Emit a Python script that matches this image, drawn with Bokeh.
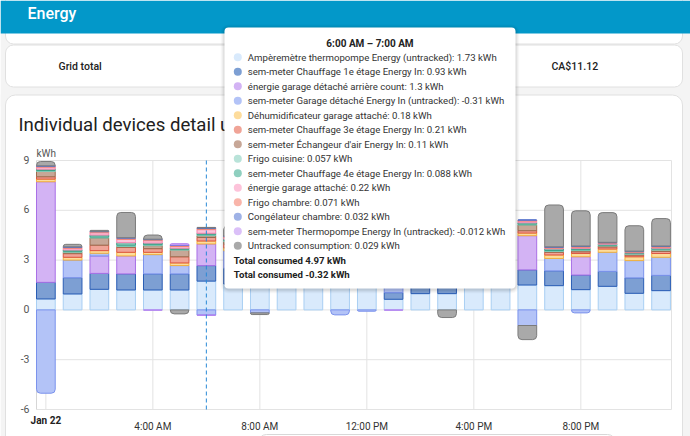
import numpy as np
from bokeh.plotting import figure
from bokeh.models import ColumnDataSource, FixedTicker, Range1d, Label, BoxAnnotation
from bokeh.core.properties import value
from bokeh.embed import file_html
from bokeh.resources import INLINE

# ---------------------------------------------------------------- data
hours = list(range(24))
x_tick_hours = [4, 8, 12, 16, 20]
x_tick_labels = ["4:00 AM", "8:00 AM", "12:00 PM", "4:00 PM", "8:00 PM"]
day_label = "Jan 22"
y_ticks = [-6, -3, 0, 3, 6, 9]
unit = "kWh"

series_names = [
    "Ampèremètre thermopompe Energy (untracked)",
    "sem-meter Chauffage 1e étage Energy In",
    "énergie garage détaché arrière count",
    "sem-meter Garage détaché Energy In (untracked)",
    "Déhumidificateur garage attaché",
    "sem-meter Chauffage 3e étage Energy In",
    "sem-meter Échangeur d'air Energy In",
    "Frigo cuisine",
    "sem-meter Chauffage 4e étage Energy In",
    "énergie garage attaché",
    "Frigo chambre",
    "Congélateur chambre",
    "sem-meter Thermopompe Energy In (untracked)",
    "Untracked consumption",
]

# hourly energy per device (kWh), hours 0..23
amperemetre = [0.66, 0.96, 1.24, 1.2, 1.2, 1.2, 1.734, 1.56, 1.7, 1.8, 1.75, 1.68,
               1.62, 0.64, 0.98, 0.98, 1.72, 1.66, 1.5, 1.46, 1.22, 1.42, 1.0, 1.16]
chauffage_1e = [1.0, 0.98, 0.96, 0.97, 0.97, 0.97, 0.934, 0.95, 0.62, 0.42, 0.36, 0.3,
                0.28, 0.4, 0.38, 0.52, 0.58, 0.74, 0.91, 0.89, 0.88, 0.9, 0.93, 0.92]
garage_detache_arriere = [6.06, 0, 1.05, 1.08, 0, 0, 1.304, 0, 0.9, 0, 0, 0.82,
                          0, 0, 0, 1.05, 0, 1.2, 2.06, 0, 1.1, 0, 0, 0]
garage_detache = [-5.02, 1.06, 0.16, 0, 1.16, 0.5, -0.31, 1.05, -0.18, 0.6, 0.55, -0.3,
                  -0.08, 0.5, 0.45, 0, 0.7, 0, -0.94, 0.75, -0.18, 1.15, 1.04, 1.09]
deshumidificateur = [0.16, 0.17, 0.16, 0.22, 0.14, 0.16, 0.18, 0.18, 0.15, 0.12, 0.12, 0.1,
                     0.1, 0.1, 0.12, 0.12, 0.14, 0.16, 0.16, 0.21, 0.2, 0.2, 0.23, 0.23]
chauffage_3e = [0.14, 0.22, 0.33, 0.3, 0.22, 0.37, 0.21, 0.22, 0.12, 0.1, 0.08, 0.08,
                0.08, 0.08, 0.08, 0.1, 0.1, 0.12, 0.14, 0.16, 0.1, 0.12, 0.1, 0.12]
echangeur_air = [0.32, 0.08, 0.43, 0.05, 0.18, 0.4, 0.11, 0.15, 0.1, 0.1, 0.1, 0.1,
                 0.1, 0.1, 0.1, 0.1, 0.1, 0.1, 0.34, 0.05, 0.08, 0.06, 0.05, 0.08]
frigo_cuisine = [0.06, 0.06, 0.06, 0.08, 0.06, 0.05, 0.057, 0.06, 0.06, 0.05, 0.06, 0.05,
                 0.06, 0.05, 0.06, 0.05, 0.06, 0.05, 0.06, 0.06, 0.05, 0.05, 0.05, 0.06]
chauffage_4e = [0.08, 0.08, 0.12, 0.15, 0.1, 0.07, 0.088, 0.09, 0.05, 0.04, 0.04, 0.04,
                0.04, 0.04, 0.05, 0.05, 0.06, 0.07, 0.08, 0.1, 0.08, 0.06, 0.04, 0.06]
garage_attache = [0.12, 0.1, 0.14, 0.2, 0.14, 0.1, 0.22, 0.1, 0.12, 0.1, 0.1, 0.08,
                  0.1, 0.1, 0.1, 0.1, 0.12, 0.1, 0.1, 0.04, 0.06, 0.04, 0.03, 0.05]
frigo_chambre = [0.05, 0.06, 0.06, 0.07, 0.06, 0.06, 0.071, 0.06, 0.07, 0.06, 0.06, 0.06,
                 0.06, 0.07, 0.06, 0.06, 0.06, 0.06, 0.05, 0.05, 0.05, 0.04, 0.04, 0.05]
congelateur = [0.03, 0.03, 0.03, 0.03, 0.03, 0.03, 0.032, 0.03, 0.03, 0.03, 0.03, 0.03,
               0.03, 0.03, 0.03, 0.03, 0.03, 0.03, 0.03, 0.03, 0.03, 0.03, 0.03, 0.03]
thermopompe = [0, 0, 0, 0, -0.02, 0.08, -0.012, 0, 0, 0, 0, 0,
               0, -0.02, 0, 0, 0, 0, 0, 0, 0, 0, 0, 0]
untracked = [0.26, 0.15, 0.05, 1.52, 0.25, -0.24, 0.029, 0.62, -0.1, 0.5, 0.6, 0.4,
             0.7, 0.6, 0.55, -0.46, 0.45, 0.5, -0.85, 2.52, 2.12, 1.79, 1.53, 1.65]

series_values = [amperemetre, chauffage_1e, garage_detache_arriere, garage_detache,
                 deshumidificateur, chauffage_3e, echangeur_air, frigo_cuisine,
                 chauffage_4e, garage_attache, frigo_chambre, congelateur,
                 thermopompe, untracked]

fill_colors = ["#d9eafc", "#7d9fd3", "#d3b3f4", "#b3c3f7", "#fddc9c", "#f0a497", "#c7a797",
               "#b9e3d9", "#8fcfbf", "#fdc3da", "#f9b5aa", "#9fb2e6", "#dbc0f8", "#a9a9a9"]
line_colors = ["#a9cff3", "#2a5db5", "#a970e6", "#7c93ec", "#f2b13c", "#dd5540", "#9c6b4e",
               "#7ccab6", "#3b9f86", "#f784b0", "#ef8574", "#5273cf", "#b27ff0", "#7b7b7b"]

selected_hour = 6

# ---------------------------------------------------------------- page geometry
W, H = 690, 436
FL, FR, FT, FB = 36, 671, 160, 409          # chart area edges on the page (px)
X0, X1 = -0.35, 23.39                       # hours shown across the chart area
Y0, Y1 = -6, 9                              # kWh shown down the chart area
FONT = "Roboto"
MEDIUM = "'Roboto Medium', Roboto"
GRID = "#e3e3e3"

# the plot frame spans the whole page; ranges are widened so that the
# chart area lands on the page rectangle above
px_per_h = (FR - FL) / (X1 - X0)
px_per_kwh = (FB - FT) / (Y1 - Y0)
x_range = Range1d(X0 - FL / px_per_h, X1 + (W - FR) / px_per_h)
y_range = Range1d(Y0 - (H - FB) / px_per_kwh, Y1 + FT / px_per_kwh)


def sx(px):
    return px


def sy(py):
    return H - py


# ---------------------------------------------------------------- stacked segments
vals = np.array(series_values, dtype=float)          # (series, hour)
pos = np.where(vals > 0, vals, 0.0)
neg = np.where(vals < 0, vals, 0.0)
pos_top = np.cumsum(pos, axis=0)
neg_bot = np.cumsum(neg, axis=0)

groups = {"mid": [], "top": [], "bottom": []}
for h in hours:
    pos_idx = [k for k in range(len(series_values)) if vals[k, h] > 0]
    neg_idx = [k for k in range(len(series_values)) if vals[k, h] < 0]
    for k in pos_idx:
        kind = "top" if k == pos_idx[-1] else "mid"
        groups[kind].append((h, pos_top[k, h] - vals[k, h], pos_top[k, h], k))
    for k in neg_idx:
        kind = "bottom" if k == neg_idx[-1] else "mid"
        groups[kind].append((h, neg_bot[k, h], neg_bot[k, h] - vals[k, h], k))


def seg_source(rows):
    return ColumnDataSource(dict(
        x=[r[0] for r in rows], bottom=[r[1] for r in rows], top=[r[2] for r in rows],
        fill=[fill_colors[r[3]] for r in rows], line=[line_colors[r[3]] for r in rows]))


# ---------------------------------------------------------------- figure
p = figure(width=W, height=H, output_backend="svg", toolbar_location=None,
           x_range=x_range, y_range=y_range, min_border=0)
p.background_fill_color = "white"
p.border_fill_color = "white"
p.outline_line_color = None
p.grid.visible = False
p.yaxis.visible = False

# grid lines limited to the chart area
grid_x = [0] + x_tick_hours
p.segment(x0=grid_x, x1=grid_x, y0=[Y0] * len(grid_x), y1=[Y1] * len(grid_x),
          line_color=GRID, line_width=1)
p.segment(x0=[X0] * len(y_ticks), x1=[X1] * len(y_ticks), y0=y_ticks, y1=y_ticks,
          line_color=GRID, line_width=1)
p.segment(x0=[X1], x1=[X1], y0=[Y0], y1=[Y1], line_color=GRID, line_width=1)
p.segment(x0=[X0], x1=[X0], y0=[Y0], y1=[Y1], line_color="#d6d6d6", line_width=1)

# y tick labels beside the chart area
p.text(x=[X0] * len(y_ticks), y=y_ticks, text=[str(t) for t in y_ticks],
       x_offset=-7, y_offset=-1, text_align="right", text_baseline="middle",
       text_font=value(FONT), text_font_size="10.5px", text_color="#555555")

radius = {"mid": 0, "top": (4, 4, 0, 0), "bottom": (0, 0, 4, 4)}
for kind, rows in groups.items():
    p.vbar(x="x", bottom="bottom", top="top", width=0.7, source=seg_source(rows),
           fill_color="fill", line_color="line", line_width=1, border_radius=radius[kind])

# hover cursor line over the selected hour
p.segment(x0=[selected_hour], x1=[selected_hour], y0=[Y0], y1=[Y1],
          line_color="#2a8ad6", line_dash="4 3", line_width=1)

# x axis pinned to the bottom of the chart area
p.xaxis.fixed_location = Y0
p.xaxis.ticker = FixedTicker(ticks=x_tick_hours)
p.xaxis.major_label_overrides = dict(zip(x_tick_hours, x_tick_labels))
p.xaxis.axis_line_color = None
p.xaxis.major_tick_line_color = None
p.xaxis.minor_tick_line_color = None
p.xaxis.major_label_text_font = FONT
p.xaxis.major_label_text_font_size = "10px"
p.xaxis.major_label_text_color = "#333333"
p.xaxis.major_label_standoff = 5


def box(left, top, right, bottom, fill=None, line=None, radius=0, alpha=1.0):
    b = BoxAnnotation(left=sx(left), right=sx(right), top=sy(top), bottom=sy(bottom),
                      left_units="screen", right_units="screen",
                      top_units="screen", bottom_units="screen",
                      fill_color=fill, fill_alpha=alpha if fill else 0,
                      line_color=line, line_alpha=1 if line else 0, line_width=1,
                      border_radius=radius)
    p.add_layout(b)
    return b


def text(px, py, s, size="11px", color="#212121", bold=False, align="left", font=FONT):
    lab = Label(x=sx(px), y=sy(py), x_units="screen", y_units="screen", text=s,
                text_font=font, text_font_size=size, text_color=color,
                text_font_style="bold" if bold else "normal",
                text_align=align, text_baseline="middle")
    p.add_layout(lab)
    return lab


# day label under the first tick
p.add_layout(Label(x=0, y=sy(419.5), x_units="data", y_units="screen", text=day_label,
                   text_font=FONT, text_font_size="10px", text_font_style="bold",
                   text_color="#222222", text_align="center", text_baseline="middle"))

# unit label above the y axis
text(36, 152.5, unit, size="10px", color="#555555")

# ---------------------------------------------------------------- page chrome
PAGE = "#f4f4f4"
CARD_LINE = "#e0e0e0"
box(0, 0, W, 106, fill=PAGE)
box(0, 94, 5, H, fill=PAGE)
box(682, 94, W, H, fill=PAGE)
box(5, -20, 682, 43.5, fill="white", line=CARD_LINE, radius=8)
box(5, 44.5, 682, 86.5, fill="white", line=CARD_LINE, radius=8)
box(5, 94.5, 682, 140, fill="white", radius=(10, 10, 0, 0))
box(5, 94.5, 682, 480, line=CARD_LINE, radius=10)
box(258, 434, 615, 470, fill="white", line="#d8d8d8", radius=8)
box(0, 0, W, 33, fill="#0398c9")

text(27, 13, "Energy", size="16px", color="white", font=MEDIUM)
text(58, 66, "Grid total", size="10.5px", font=MEDIUM)
text(551, 66, "CA$11.12", size="10.5px", font=MEDIUM)
text(18, 124, "Individual devices detail usage", size="18.6px")

# ---------------------------------------------------------------- tooltip
TL, TT, TR, TB = 224, 27, 515, 288
for d, a in [(4, 0.02), (3, 0.03), (2, 0.04), (1, 0.06)]:
    box(TL - d, TT - d + 1, TR + d, TB + d + 1, fill="#000000", radius=4 + d, alpha=a)
box(TL, TT, TR, TB, fill="white", radius=4)

h = selected_hour
text((TL + TR) / 2, 43, f"{h}:00 AM – {h + 1}:00 AM", size="10px", bold=True,
     align="center", color="#222222")


def fmt(v):
    s = f"{v:.3f}" if abs(v) < 0.1 else f"{v:.2f}"
    return s.rstrip("0").rstrip(".")


row0, step = 56.7, 14.5
for i, name in enumerate(series_names):
    yy = row0 + step * i
    box(233.3, yy - 4, 241.3, yy + 4, fill=fill_colors[i], radius=4)
    text(247.3, yy, f"{name}: {fmt(vals[i, h])} {unit}", size="9.65px", color="#333333")

total_pos = pos[:, h].sum()
total_neg = neg[:, h].sum()
n = len(series_names)
text(233.3, row0 + step * n, f"Total consumed {total_pos:.2f} {unit}", size="9.65px",
     bold=True, color="#222222")
text(233.3, row0 + step * (n + 1), f"Total consumed {total_neg:.2f} {unit}", size="9.65px",
     bold=True, color="#222222")

open("out.html", "w").write(file_html(p, INLINE))
